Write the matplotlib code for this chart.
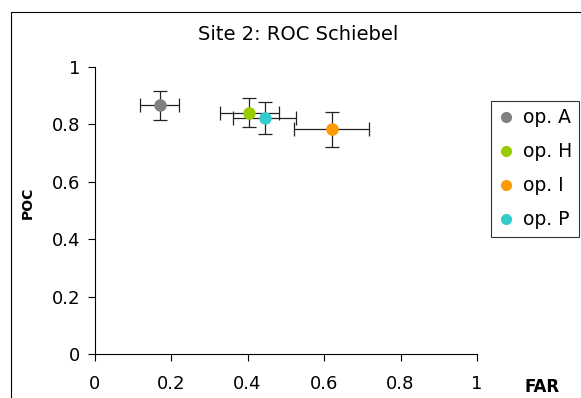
import matplotlib.pyplot as plt
from matplotlib.patches import Rectangle

plt.rcParams['font.family'] = ['DejaVu Sans']

# operator results: false alarm rate vs probability of clearance
operators = ['op. A', 'op. H', 'op. I', 'op. P']
far = [0.17, 0.405, 0.62, 0.445]
poc = [0.865, 0.84, 0.782, 0.822]
far_err = [0.05, 0.078, 0.098, 0.083]
poc_err = [0.05, 0.05, 0.06, 0.056]
colors = ['#808080', '#99cc00', '#ff9900', '#33cccc']

fig = plt.figure(figsize=(5.81, 3.98), dpi=100)
ax = fig.add_axes([0.1627, 0.1106, 0.6583, 0.7218])

for name, x, y, xe, ye, c in zip(operators, far, poc, far_err, poc_err, colors):
    ax.errorbar(x, y, xerr=xe, yerr=ye, fmt='o', color=c, ms=8, mec=c,
                ecolor='#222222', elinewidth=0.9, capsize=5, capthick=0.9,
                label=name, zorder=3)

ax.set_xlim(0, 1)
ax.set_ylim(0, 1)
ax.set_xticks([0, 0.2, 0.4, 0.6, 0.8, 1])
ax.set_xticklabels(['0', '0.2', '0.4', '0.6', '0.8', '1'])
ax.set_yticks([0, 0.2, 0.4, 0.6, 0.8, 1])
ax.set_yticklabels(['0', '0.2', '0.4', '0.6', '0.8', '1'])
ax.tick_params(labelsize=13, length=5, width=0.8)
ax.tick_params(axis='x', pad=10)
ax.tick_params(axis='y', pad=5.5)
for side in ['top', 'right']:
    ax.spines[side].set_visible(False)
for side in ['left', 'bottom']:
    ax.spines[side].set_linewidth(0.8)

fig.text(298 / 581, 1 - 35 / 398, 'Site 2: ROC Schiebel', ha='center', va='center',
         fontsize=14)
fig.text(27.5 / 581, 1 - 203 / 398, 'POC', rotation=90, ha='center', va='center',
         fontsize=10, fontweight='bold')
fig.text(542 / 581, 1 - 387 / 398, 'FAR', ha='center', va='center',
         fontsize=12, fontweight='bold')

handles = [plt.Line2D([], [], marker='o', ls='', color=c, ms=7) for c in colors]
leg = fig.legend(handles, operators, loc='upper left',
                 bbox_to_anchor=(490.7 / 581, 1 - 100.7 / 398), fontsize=13.5,
                 frameon=True, fancybox=False, edgecolor='black',
                 labelspacing=0.8, handlelength=0.8, handletextpad=0.5,
                 borderpad=0.4, borderaxespad=0)
leg.get_frame().set_linewidth(0.8)

# chart area border, running off the right and bottom edges
fig.patches.append(Rectangle((10.5 / 581, -0.1), 1.0, 1.1 - 12.5 / 398,
                             transform=fig.transFigure, fill=False,
                             edgecolor='black', linewidth=0.8))

fig.savefig('out.png', dpi=100)
